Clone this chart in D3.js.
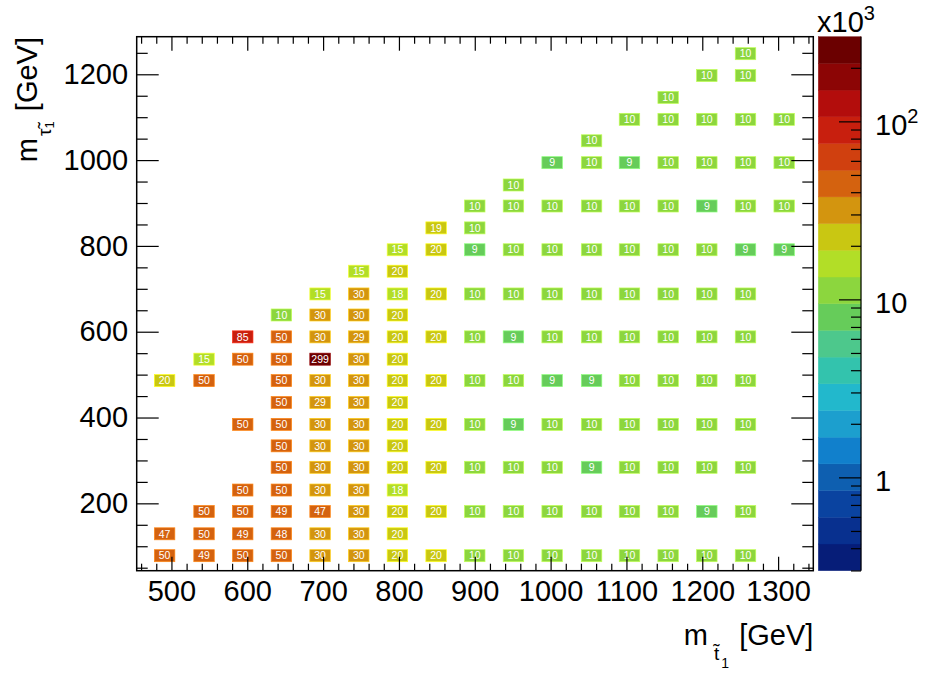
<!DOCTYPE html>
<html>
<head>
<meta charset="utf-8">
<script src="https://cdn.jsdelivr.net/npm/d3@7"></script>
<style>
  html, body { margin: 0; padding: 0; background: #fff; }
  svg { display: block; font-family: "Liberation Sans", Arial, Helvetica, sans-serif; }
</style>
</head>
<body>
<svg id="chart" width="925" height="675"></svg>
<script>
// Bin centres on the m(stop) axis, GeV (one per column)
const stopCentres = [491, 543, 594, 645, 696, 747, 798, 849, 900, 951, 1002, 1054, 1104, 1155, 1206, 1257, 1308];
// Bin centres on the m(stau) axis, GeV (one per row, bottom to top)
const stauCentres = [78, 129, 181, 231, 284, 334, 384, 435, 486, 536, 588, 639, 688, 741, 791, 842, 893, 942, 994, 1045, 1095, 1146, 1197, 1248];

// Bin contents (x10^3), one row per stau bin, one entry per stop column; null = empty
const _ = null;
const cellValues = [
  [50, 49, 50, 50, 30, 30, 20, 20, 10, 10, 10, 10, 10, 10, 10, 10, _],
  [47, 50, 49, 48, 30, 30, 20, _, _, _, _, _, _, _, _, _, _],
  [_, 50, 50, 49, 47, 30, 20, 20, 10, 10, 10, 10, 10, 10, 9, 10, _],
  [_, _, 50, 50, 30, 30, 18, _, _, _, _, _, _, _, _, _, _],
  [_, _, _, 50, 30, 30, 20, 20, 10, 10, 10, 9, 10, 10, 10, 10, _],
  [_, _, _, 50, 30, 30, 20, _, _, _, _, _, _, _, _, _, _],
  [_, _, 50, 50, 30, 30, 20, 20, 10, 9, 10, 10, 10, 10, 10, 10, _],
  [_, _, _, 50, 29, 30, 20, _, _, _, _, _, _, _, _, _, _],
  [20, 50, _, 50, 30, 30, 20, 20, 10, 10, 9, 9, 10, 10, 10, 10, _],
  [_, 15, 50, 50, 299, 30, 20, _, _, _, _, _, _, _, _, _, _],
  [_, _, 85, 50, 30, 29, 20, 20, 10, 9, 10, 10, 10, 10, 10, 10, _],
  [_, _, _, 10, 30, 30, 20, _, _, _, _, _, _, _, _, _, _],
  [_, _, _, _, 15, 30, 18, 20, 10, 10, 10, 10, 10, 10, 10, 10, _],
  [_, _, _, _, _, 15, 20, _, _, _, _, _, _, _, _, _, _],
  [_, _, _, _, _, _, 15, 20, 9, 10, 10, 10, 10, 10, 10, 9, 9],
  [_, _, _, _, _, _, _, 19, 10, _, _, _, _, _, _, _, _],
  [_, _, _, _, _, _, _, _, 10, 10, 10, 10, 10, 10, 9, 10, 10],
  [_, _, _, _, _, _, _, _, _, 10, _, _, _, _, _, _, _],
  [_, _, _, _, _, _, _, _, _, _, 9, 10, 9, 10, 10, 10, 10],
  [_, _, _, _, _, _, _, _, _, _, _, 10, _, _, _, _, _],
  [_, _, _, _, _, _, _, _, _, _, _, _, 10, 10, 10, 10, 10],
  [_, _, _, _, _, _, _, _, _, _, _, _, _, 10, _, _, _],
  [_, _, _, _, _, _, _, _, _, _, _, _, _, _, 10, 10, _],
  [_, _, _, _, _, _, _, _, _, _, _, _, _, _, _, 10, _]
];

// Axis tick labels
const xTicks = [500, 600, 700, 800, 900, 1000, 1100, 1200, 1300];
const yTicks = [200, 400, 600, 800, 1000, 1200];
const zTicks = [1, 10, 100];

// 20-level palette, lowest to highest contour
const palette = [
  "#061d78", "#08308f", "#0a43a0", "#0e5fb0", "#1180cc", "#1c9fce", "#22b8cc",
  "#33c3ad", "#4dc88c", "#66cc5a", "#8cd63e", "#b2de27", "#c9c712", "#d3950f",
  "#d4620f", "#d0400f", "#c81f0e", "#b30d0c", "#8c0505", "#6b0000"
];

// ---------------------------------------------------------------
const svg = d3.select("#chart");
const fx0 = 136.7, fx1 = 813.3, fy0 = 36.7, fy1 = 570.7;
const FONT = 29;

const x = d3.scaleLinear().domain([454.2, 1346.4]).range([fx0, fx1]);
const y = d3.scaleLinear().domain([43, 1287.6]).range([fy1, fy0]);

const allValues = cellValues.flat().filter(v => v !== null);
const zMax = d3.max(allValues);
const zMin = zMax * 1e-3;
const colour = d3.scaleQuantize()
  .domain([Math.log10(zMin), Math.log10(zMax)])
  .range(palette);

// cells
const cells = [];
cellValues.forEach((row, r) => row.forEach((v, c) => {
  if (v !== null) cells.push({ sx: stopCentres[c], sy: stauCentres[r], v });
}));

const binW = 27, binH = 28; // GeV
const gCells = svg.append("g");
gCells.selectAll("rect").data(cells).join("rect")
  .attr("x", d => x(d.sx - binW / 2))
  .attr("y", d => y(d.sy + binH / 2))
  .attr("width", d => x(d.sx + binW / 2) - x(d.sx - binW / 2))
  .attr("height", d => y(d.sy - binH / 2) - y(d.sy + binH / 2))
  .attr("fill", d => colour(Math.log10(d.v)))
  .attr("stroke", d => d3.color(colour(Math.log10(d.v))).brighter(0.9))
  .attr("stroke-width", 0.7);

gCells.selectAll("text").data(cells).join("text")
  .attr("x", d => x(d.sx))
  .attr("y", d => y(d.sy) + 3.7)
  .attr("text-anchor", "middle")
  .attr("fill", "#fff")
  .attr("font-size", 10.5)
  .text(d => d.v);

// axes
function styleAxis(g, labelled) {
  g.select(".domain").remove();
  g.attr("font-family", null).attr("font-size", null);
  g.selectAll("line").attr("stroke", "#000").attr("stroke-width", 1.2);
  if (labelled) g.selectAll("text").attr("font-size", FONT).attr("fill", "#000");
}

const xMinor = d3.range(460, 1346, 20).filter(v => v % 100 !== 0);
const yMinor = d3.range(50, 1288, 50).filter(v => v % 200 !== 0);

svg.append("g").attr("transform", `translate(0,${fy1})`)
  .call(d3.axisBottom(x).tickValues(xTicks).tickSizeInner(-14).tickSizeOuter(0)
    .tickPadding(10).tickFormat(d3.format("d")))
  .call(g => styleAxis(g, true));
svg.append("g").attr("transform", `translate(0,${fy1})`)
  .call(d3.axisBottom(x).tickValues(xMinor).tickSizeInner(-7).tickSizeOuter(0).tickFormat(""))
  .call(g => styleAxis(g, false));
svg.append("g").attr("transform", `translate(0,${fy0})`)
  .call(d3.axisTop(x).tickValues(xTicks).tickSizeInner(-14).tickSizeOuter(0).tickFormat(""))
  .call(g => styleAxis(g, false));
svg.append("g").attr("transform", `translate(0,${fy0})`)
  .call(d3.axisTop(x).tickValues(xMinor).tickSizeInner(-7).tickSizeOuter(0).tickFormat(""))
  .call(g => styleAxis(g, false));

svg.append("g").attr("transform", `translate(${fx0},0)`)
  .call(d3.axisLeft(y).tickValues(yTicks).tickSizeInner(-22).tickSizeOuter(0)
    .tickPadding(8.7).tickFormat(d3.format("d")))
  .call(g => styleAxis(g, true));
svg.append("g").attr("transform", `translate(${fx0},0)`)
  .call(d3.axisLeft(y).tickValues(yMinor).tickSizeInner(-11).tickSizeOuter(0).tickFormat(""))
  .call(g => styleAxis(g, false));
svg.append("g").attr("transform", `translate(${fx1},0)`)
  .call(d3.axisRight(y).tickValues(yTicks).tickSizeInner(-22).tickSizeOuter(0).tickFormat(""))
  .call(g => styleAxis(g, false));
svg.append("g").attr("transform", `translate(${fx1},0)`)
  .call(d3.axisRight(y).tickValues(yMinor).tickSizeInner(-11).tickSizeOuter(0).tickFormat(""))
  .call(g => styleAxis(g, false));

// frame
svg.append("rect")
  .attr("x", fx0).attr("y", fy0)
  .attr("width", fx1 - fx0).attr("height", fy1 - fy0)
  .attr("fill", "none").attr("stroke", "#000").attr("stroke-width", 1.5);

// axis titles (accented subscripts use a combining tilde)
const xt = svg.append("text")
  .attr("x", fx1).attr("y", 645)
  .attr("text-anchor", "end").attr("font-size", FONT).attr("fill", "#000");
xt.append("tspan").text("m");
xt.append("tspan").attr("font-size", 19).attr("dx", 6).attr("dy", 15).text("t\u0303");
xt.append("tspan").attr("font-size", 14).attr("dx", 2).attr("dy", 8).text("1");
xt.append("tspan").attr("dx", 2).attr("dy", -23).text(" [GeV]");

const yt = svg.append("text")
  .attr("transform", "translate(37,37) rotate(-90)")
  .attr("x", 0).attr("y", 0)
  .attr("text-anchor", "end").attr("font-size", FONT).attr("fill", "#000");
yt.append("tspan").text("m");
yt.append("tspan").attr("font-size", 19).attr("dx", 2).attr("dy", 14).text("\u03c4\u0303");
yt.append("tspan").attr("font-size", 13).attr("dy", 3).text("1");
yt.append("tspan").attr("dx", 2).attr("dy", -17).text(" [GeV]");

// colour bar
const cbx0 = 818.3, cbx1 = 861;
const zY = d3.scaleLog().domain([zMin, zMax]).range([fy1, fy0]);
svg.append("g").selectAll("rect").data(palette).join("rect")
  .attr("x", cbx0)
  .attr("width", cbx1 - cbx0)
  .attr("y", c => zY(Math.pow(10, colour.invertExtent(c)[1])))
  .attr("height", c => zY(Math.pow(10, colour.invertExtent(c)[0])) - zY(Math.pow(10, colour.invertExtent(c)[1])))
  .attr("fill", c => c)
  .attr("stroke", c => c).attr("stroke-width", 0.4);

const zMinor = zY.ticks().filter(v => !zTicks.some(t => Math.abs(t - v) < 1e-9));
svg.append("g").attr("transform", `translate(${cbx1},0)`)
  .call(d3.axisRight(zY).tickValues(zTicks).tickSizeInner(-22).tickSizeOuter(0).tickFormat(""))
  .call(g => styleAxis(g, false));
svg.append("g").attr("transform", `translate(${cbx1},0)`)
  .call(d3.axisRight(zY).tickValues(zMinor).tickSizeInner(-10).tickSizeOuter(0).tickFormat(""))
  .call(g => styleAxis(g, false));
svg.append("line")
  .attr("x1", cbx1).attr("x2", cbx1).attr("y1", fy0).attr("y2", fy1)
  .attr("stroke", "#000").attr("stroke-width", 1.2);

// colour bar labels: 1, 10, 10^2
const zl = svg.append("g").selectAll("text").data(zTicks).join("text")
  .attr("x", 875)
  .attr("y", d => zY(d) + 14)
  .attr("font-size", FONT).attr("fill", "#000");
zl.each(function (d) {
  const e = Math.round(Math.log10(d));
  const t = d3.select(this);
  if (e < 2) {
    t.text(String(d));
  } else {
    t.append("tspan").text("10");
    t.append("tspan").attr("font-size", 20).attr("dy", -12).text(String(e));
  }
});

// multiplier above the colour bar
const mult = svg.append("text")
  .attr("x", 817).attr("y", 32)
  .attr("font-size", FONT).attr("fill", "#000");
mult.append("tspan").text("x10");
mult.append("tspan").attr("font-size", 20).attr("dy", -12).text("3");
</script>
</body>
</html>
